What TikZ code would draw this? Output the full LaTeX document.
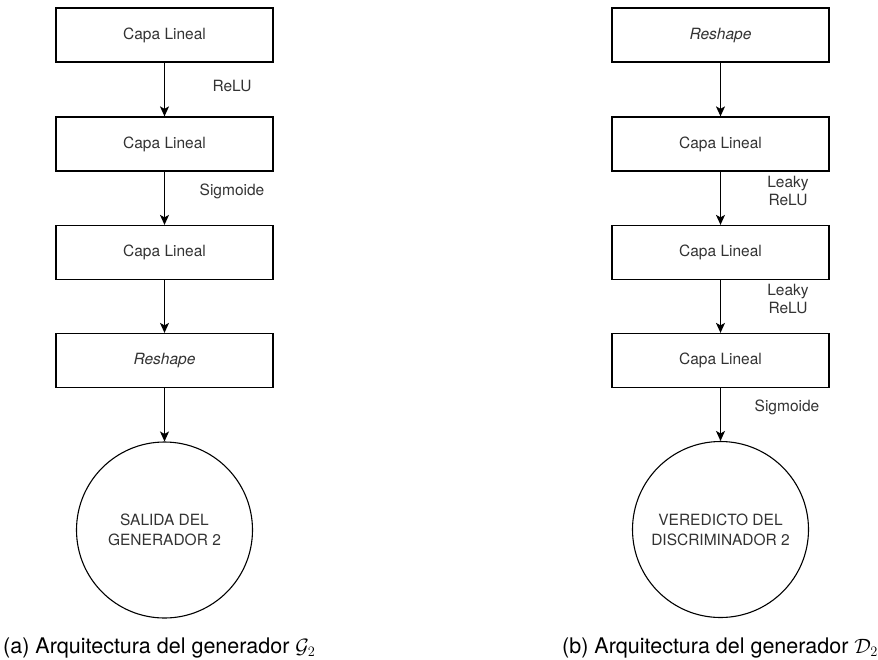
\documentclass[tikz,border=0pt]{standalone}
\usepackage{fontspec}
\setmainfont{TeX Gyre Heros}
\usetikzlibrary{arrows.meta}
\begin{document}
\begin{tikzpicture}[x=1pt,y=-1pt,
  layer/.style={draw, line width=1.25pt, minimum width=217pt, minimum height=54pt,
    inner sep=0pt, font=\fontsize{15.5}{18.6}\selectfont, text=black!80},
  outnode/.style={draw, circle, line width=1.1pt, minimum size=176pt, inner sep=0pt,
    align=center, font=\fontsize{15.5}{20}\selectfont, text=black!80},
  flow/.style={-{Stealth[length=10pt,width=9pt,inset=2.5pt]}, line width=1.25pt},
  act/.style={align=center, font=\fontsize{15.5}{18.6}\selectfont, text=black!80},
  subcaption/.style={anchor=base west, font=\fontsize{21.5}{25}\selectfont, inner sep=0pt}]
\useasboundingbox (0,0) rectangle (878,659);

% generator G_2
\node[layer] (g1) at (164.5,35) {Capa Lineal};
\node[layer] (g2) at (164.5,144) {Capa Lineal};
\node[layer] (g3) at (164.5,252.5) {Capa Lineal};
\node[layer] (g4) at (164.5,360.5) {\itshape Reshape};
\node[outnode] (gout) at (164.5,530) {SALIDA DEL\\GENERADOR 2};
\draw[flow] (g1) -- (g2);
\draw[flow] (g2) -- (g3);
\draw[flow] (g3) -- (g4);
\draw[flow] (g4) -- (gout);
\node[act] (ga1) at (232,86) {ReLU};
\node[act] (ga2) at (232,191) {Sigmoide};

% discriminator D_2
\node[layer] (d1) at (720.5,35) {\itshape Reshape};
\node[layer] (d2) at (720.5,144) {Capa Lineal};
\node[layer] (d3) at (720.5,252.5) {Capa Lineal};
\node[layer] (d4) at (720.5,360.5) {Capa Lineal};
\node[outnode] (dout) at (720.5,529.5) {VEREDICTO DEL\\DISCRIMINADOR 2};
\draw[flow] (d1) -- (d2);
\draw[flow] (d2) -- (d3);
\draw[flow] (d3) -- (d4);
\draw[flow] (d4) -- (dout);
\node[act] (da1) at (788,191) {Leaky\\ReLU};
\node[act] (da2) at (788,299) {Leaky\\ReLU};
\node[act] (da3) at (787,407) {Sigmoide};

% captions
\node[subcaption] (capa) at (3,653) {(a) Arquitectura del generador $\mathcal{G}_2$};
\node[subcaption] (capb) at (562,653) {(b) Arquitectura del generador $\mathcal{D}_2$};
\end{tikzpicture}
\end{document}
